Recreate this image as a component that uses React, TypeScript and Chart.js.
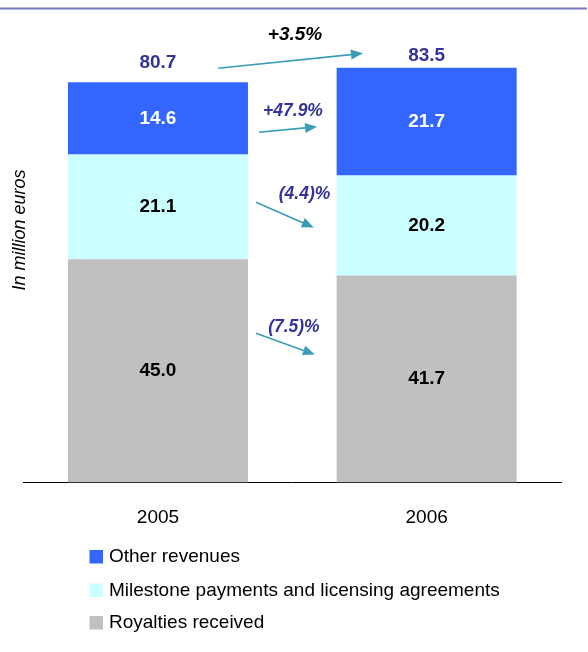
import React, { useEffect, useRef } from 'react';
import { Chart, registerables } from 'chart.js';

Chart.register(...registerables);

// ---- data ----
const YEARS = ['2005', '2006'];
const ROYALTIES = [45.0, 41.7];
const MILESTONES = [21.1, 20.2];
const OTHER_REVENUES = [14.6, 21.7];
const TOTALS = [80.7, 83.5];
const SERIES_NAMES = ['Royalties received', 'Milestone payments and licensing agreements', 'Other revenues'];
const CHANGE_LABELS = ['+3.5%', '+47.9%', '(4.4)%', '(7.5)%'];
const Y_TITLE = 'In million euros';
const Y_MAX = 90;

// ---- styling / layout ----
const FONT = "'Liberation Sans', Arial, Helvetica, sans-serif";
const COLORS = ['#C0C0C0', '#CCFFFF', '#3366FF'];
const SEGMENT_TEXT = ['#000000', '#000000', '#FFFFFF'];
const NAVY = '#333399';
const ARROW = '#3A9DB5';
const TOTAL_OFFSETS = [19, 12.5];
// positions in scale units: x = fraction between category 0 and 1, y = value
const CHANGE_LAYOUT = [
  { label: [0.51, 90.3], from: [0.2235, 83.5], to: [0.763, 86.5], color: '#000000', size: 19 },
  { label: [0.5026, 74.9], from: [0.376, 70.6], to: [0.592, 71.7], color: NAVY, size: 17.5 },
  { label: [0.5454, 58.2], from: [0.365, 56.5], to: [0.58, 51.4], color: NAVY, size: 17.5 },
  { label: [0.506, 31.4], from: [0.365, 30.1], to: [0.584, 25.8], color: NAVY, size: 17.5 },
];

const annotationPlugin = {
  id: 'annotations',
  afterDatasetsDraw(chart: any) {
    const ctx = chart.ctx;
    const xs = chart.scales.x;
    const ys = chart.scales.y;
    ctx.save();
    ctx.textAlign = 'center';
    ctx.textBaseline = 'middle';

    // segment labels
    chart.data.datasets.forEach((ds: any, di: number) => {
      const meta = chart.getDatasetMeta(di);
      meta.data.forEach((bar: any, i: number) => {
        const p = bar.getProps(['x', 'y', 'base'], true);
        ctx.fillStyle = SEGMENT_TEXT[di];
        ctx.font = `bold 19px ${FONT}`;
        ctx.fillText(Number(ds.data[i]).toFixed(1), p.x, (p.y + p.base) / 2);
      });
    });

    // totals
    TOTALS.forEach((t, i) => {
      ctx.fillStyle = NAVY;
      ctx.font = `bold 19px ${FONT}`;
      ctx.fillText(t.toFixed(1), xs.getPixelForValue(i), ys.getPixelForValue(t) - TOTAL_OFFSETS[i]);
    });

    // change annotations
    const x0 = xs.getPixelForValue(0);
    const x1 = xs.getPixelForValue(1);
    const px = (f: number) => x0 + f * (x1 - x0);
    CHANGE_LAYOUT.forEach((c, i) => {
      ctx.fillStyle = c.color;
      ctx.font = `italic bold ${c.size}px ${FONT}`;
      ctx.fillText(CHANGE_LABELS[i], px(c.label[0]), ys.getPixelForValue(c.label[1]));

      const sx = px(c.from[0]);
      const sy = ys.getPixelForValue(c.from[1]);
      const ex = px(c.to[0]);
      const ey = ys.getPixelForValue(c.to[1]);
      const ang = Math.atan2(ey - sy, ex - sx);
      const headLen = 12;
      const headHalf = 5;
      const bx = ex - headLen * Math.cos(ang);
      const by = ey - headLen * Math.sin(ang);
      ctx.strokeStyle = ARROW;
      ctx.lineWidth = 1.6;
      ctx.beginPath();
      ctx.moveTo(sx, sy);
      ctx.lineTo(bx, by);
      ctx.stroke();
      ctx.fillStyle = ARROW;
      ctx.beginPath();
      ctx.moveTo(ex, ey);
      ctx.lineTo(bx + headHalf * Math.sin(ang), by - headHalf * Math.cos(ang));
      ctx.lineTo(bx - headHalf * Math.sin(ang), by + headHalf * Math.cos(ang));
      ctx.closePath();
      ctx.fill();
    });
    ctx.restore();
  },
  afterDraw(chart: any) {
    const ctx = chart.ctx;
    ctx.save();
    // top rule
    ctx.strokeStyle = '#7777BB';
    ctx.lineWidth = 2;
    ctx.beginPath();
    ctx.moveTo(0, 8.5);
    ctx.lineTo(587, 8.5);
    ctx.stroke();

    // y title
    ctx.save();
    ctx.translate(20, 230);
    ctx.rotate(-Math.PI / 2);
    ctx.fillStyle = '#000';
    ctx.font = `italic 18px ${FONT}`;
    ctx.textAlign = 'center';
    ctx.textBaseline = 'middle';
    ctx.fillText(Y_TITLE, 0, 0);
    ctx.restore();

    // legend (top series first)
    const rows = [557, 590.5, 623];
    const order = [2, 1, 0];
    order.forEach((di, r) => {
      const cy = rows[r];
      ctx.fillStyle = COLORS[di];
      ctx.fillRect(89.5, cy - 7, 13.5, 13.5);
      ctx.fillStyle = '#000';
      ctx.font = `19px ${FONT}`;
      ctx.textAlign = 'left';
      ctx.textBaseline = 'middle';
      ctx.fillText(chart.data.datasets[di].label, 109, cy);
    });
    ctx.restore();
  },
};

export default function App() {
  const ref = useRef<HTMLCanvasElement | null>(null);
  useEffect(() => {
    if (!ref.current) return;
    const series = [ROYALTIES, MILESTONES, OTHER_REVENUES];
    const chart = new Chart(ref.current, {
      type: 'bar',
      data: {
        labels: YEARS,
        datasets: series.map((d, i) => ({
          label: SERIES_NAMES[i],
          data: d,
          backgroundColor: COLORS[i],
          borderWidth: 0,
          barPercentage: 0.67,
          categoryPercentage: 1,
        })),
      },
      options: {
        animation: false,
        responsive: false,
        devicePixelRatio: 1,
        layout: { padding: { left: 23.6, right: 27, top: 36, bottom: 109.5 } },
        plugins: { legend: { display: false }, tooltip: { enabled: false } },
        scales: {
          x: {
            stacked: true,
            grid: { display: false, drawTicks: false },
            border: { display: true, color: '#000', width: 1 },
            ticks: { color: '#000', font: { family: FONT, size: 19 }, padding: 24 },
            afterFit: (s: any) => { s.height = 60; },
          },
          y: { stacked: true, display: false, min: 0, max: Y_MAX },
        },
      },
      plugins: [annotationPlugin],
    } as any);
    return () => chart.destroy();
  }, []);
  return (
    <div style={{ position: 'absolute', left: 0, top: 0, width: 588, height: 652, background: '#fff' }}>
      <canvas ref={ref} width={588} height={652} style={{ display: 'block' }} />
    </div>
  );
}
